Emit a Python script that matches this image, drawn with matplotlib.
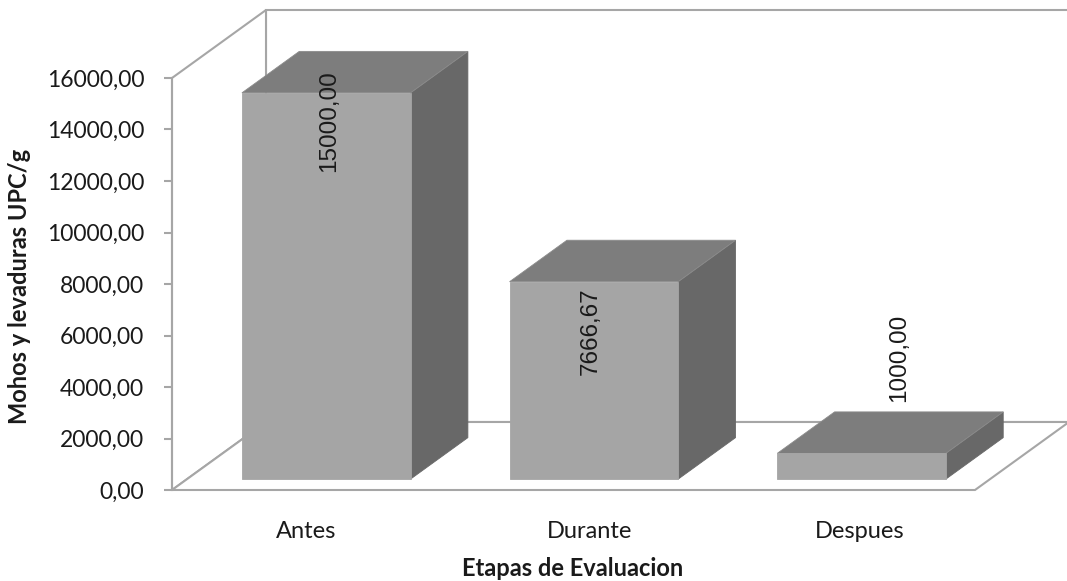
import matplotlib
matplotlib.use("Agg")
import matplotlib.pyplot as plt
from matplotlib.patches import Polygon

# Recuento de mohos y levaduras por etapa
etapas = ["Antes", "Durante", "Despues"]
upc = [15000.00, 7666.67, 1000.00]
ticks_y = [0, 2000, 4000, 6000, 8000, 10000, 12000, 14000, 16000]

plt.rcParams['font.family'] = ['Lato', 'DejaVu Sans']

W, H = 1067, 581
fig = plt.figure(figsize=(W / 100, H / 100), dpi=100)
ax = fig.add_axes([172 / W, 1 - 490 / H, 803 / W, 412 / H])
ax.set_xlim(0, 3)
ax.set_ylim(0, 16000)

# desplazamiento de profundidad (fondo del grafico 3D) en unidades de datos
DX = 94 / (803 / 3)
DY = 68 / (412 / 16000)
YMAX = 16000
linea = '#a6a6a6'

# paredes y piso
piso = Polygon([(0, 0), (3, 0), (3 + DX, DY), (DX, DY)], closed=True,
               facecolor='white', edgecolor=linea, lw=1.5, clip_on=False, zorder=1)
pared_izq = Polygon([(0, 0), (0, YMAX), (DX, YMAX + DY), (DX, DY)], closed=True,
                    facecolor='white', edgecolor=linea, lw=1.5, clip_on=False, zorder=1)
pared_fondo = Polygon([(DX, DY), (DX, YMAX + DY), (3 + DX, YMAX + DY), (3 + DX, DY)],
                      closed=True, facecolor='white', edgecolor=linea, lw=1.5,
                      clip_on=False, zorder=0.5)
ax.add_patch(pared_fondo)
ax.add_patch(pared_izq)
ax.add_patch(piso)

# barras 3D: cara frontal, superior y lateral
ancho = 0.63
f0, f1 = 0.16, 0.77
c_frente, c_arriba, c_lado = '#a5a5a5', '#7d7d7d', '#686868'
borde = '#8c8c8c'
for i, v in enumerate(upc):
    x0 = i + 0.52 - ancho / 2 + f0 * DX
    x1 = x0 + ancho
    y0 = f0 * DY
    y1 = v + f0 * DY
    ddx = (f1 - f0) * DX
    ddy = (f1 - f0) * DY
    lado = Polygon([(x1, y0), (x1 + ddx, y0 + ddy), (x1 + ddx, y1 + ddy), (x1, y1)],
                   closed=True, facecolor=c_lado, edgecolor=c_lado, lw=0.6,
                   clip_on=False, zorder=3)
    arriba = Polygon([(x0, y1), (x1, y1), (x1 + ddx, y1 + ddy), (x0 + ddx, y1 + ddy)],
                     closed=True, facecolor=c_arriba, edgecolor=borde, lw=0.6,
                     clip_on=False, zorder=3)
    frente = Polygon([(x0, y0), (x1, y0), (x1, y1), (x0, y1)], closed=True,
                     facecolor=c_frente, edgecolor=c_frente, lw=0.6,
                     clip_on=False, zorder=4)
    ax.add_patch(lado)
    ax.add_patch(arriba)
    ax.add_patch(frente)

# etiquetas de valor
offsets = [(3, -28), (-3, -49), (38, 95)]
for i, v in enumerate(upc):
    xc = i + 0.52 + f0 * DX
    yc = v + f0 * DY
    ax.annotate(f"{v:.2f}".replace('.', ','), (xc, yc), xytext=offsets[i],
                textcoords='offset pixels', rotation=90, ha='center', va='center',
                fontsize=17.5, family=['Liberation Sans', 'DejaVu Sans'],
                color='#1a1a1a', zorder=6, annotation_clip=False)

# ejes
ax.set_yticks(ticks_y)
ax.set_yticklabels([f"{t:.2f}".replace('.', ',') for t in ticks_y],
                   fontsize=16.5, color='#1a1a1a')
ax.tick_params(axis='y', length=6, width=1.5, color=linea, pad=14)
ax.set_xticks([0.5, 1.56, 2.57])
ax.set_xticklabels(etapas, fontsize=17, color='#1a1a1a')
ax.tick_params(axis='x', length=0, pad=22)
for s in ['top', 'right', 'bottom']:
    ax.spines[s].set_visible(False)
ax.spines['left'].set_color(linea)
ax.spines['left'].set_linewidth(1.5)
ax.patch.set_visible(False)

fig.text(20 / W, 1 - 286 / H, "Mohos y levaduras UPC/g", rotation=90,
         ha='center', va='center', fontsize=17, fontweight='bold', color='#1a1a1a')
fig.text(573 / W, 1 - 568 / H, "Etapas de Evaluacion", ha='center', va='center',
         fontsize=17, fontweight='bold', color='#1a1a1a')

fig.savefig("out.png", dpi=100, facecolor='white')
